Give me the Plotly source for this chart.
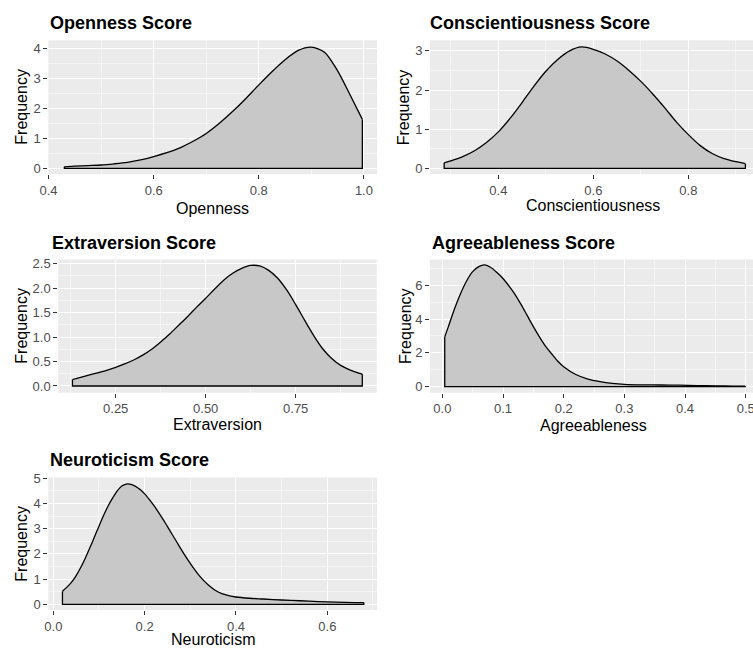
import plotly.graph_objects as go

W, H = 753, 651

# ---------------- data ----------------
openness_x = [0.43, 0.45, 0.475, 0.5, 0.525, 0.55, 0.575, 0.6, 0.625, 0.65, 0.675, 0.7,
              0.725, 0.75, 0.775, 0.8, 0.825, 0.85, 0.875, 0.9, 0.925, 0.95, 0.975, 0.997]
openness_y = [0.05, 0.07, 0.09, 0.11, 0.15, 0.20, 0.28, 0.39, 0.52, 0.68, 0.90, 1.16,
              1.50, 1.89, 2.32, 2.78, 3.22, 3.62, 3.93, 4.04, 3.87, 3.25, 2.40, 1.63]

consc_x = [0.286, 0.3, 0.325, 0.35, 0.375, 0.4, 0.425, 0.45, 0.475, 0.5, 0.525, 0.55, 0.575,
           0.6, 0.625, 0.65, 0.675, 0.7, 0.725, 0.75, 0.775, 0.8, 0.825, 0.85, 0.875, 0.9, 0.92]
consc_y = [0.14, 0.19, 0.30, 0.45, 0.66, 0.93, 1.28, 1.68, 2.10, 2.48, 2.78, 3.00, 3.10,
           3.04, 2.92, 2.74, 2.50, 2.22, 1.90, 1.55, 1.18, 0.86, 0.58, 0.38, 0.25, 0.17, 0.12]

extra_x = [0.13, 0.15, 0.175, 0.2, 0.225, 0.25, 0.275, 0.3, 0.325, 0.35, 0.375, 0.4, 0.425,
           0.45, 0.475, 0.5, 0.525, 0.55, 0.575, 0.6, 0.625, 0.65, 0.675, 0.7, 0.725, 0.75,
           0.775, 0.8, 0.825, 0.85, 0.875, 0.9, 0.935]
extra_y = [0.13, 0.17, 0.22, 0.27, 0.32, 0.38, 0.45, 0.53, 0.63, 0.75, 0.90, 1.06, 1.24,
           1.42, 1.61, 1.79, 1.98, 2.16, 2.30, 2.40, 2.46, 2.45, 2.36, 2.20, 1.96, 1.66,
           1.34, 1.03, 0.76, 0.56, 0.42, 0.33, 0.24]

agree_x = [0.004, 0.01, 0.02, 0.03, 0.04, 0.05, 0.06, 0.07, 0.08, 0.09, 0.1, 0.11, 0.12,
           0.13, 0.14, 0.15, 0.16, 0.17, 0.18, 0.19, 0.2, 0.22, 0.24, 0.26, 0.28, 0.3, 0.33,
           0.36, 0.39, 0.42, 0.45, 0.48, 0.499]
agree_y = [2.95, 3.55, 4.6, 5.5, 6.25, 6.8, 7.1, 7.2, 7.05, 6.75, 6.40, 5.95, 5.45,
           4.85, 4.20, 3.55, 2.95, 2.40, 1.95, 1.52, 1.18, 0.72, 0.45, 0.30, 0.20, 0.14, 0.11,
           0.10, 0.09, 0.07, 0.05, 0.04, 0.04]

neuro_x = [0.02, 0.03, 0.04, 0.05, 0.06, 0.07, 0.08, 0.09, 0.1, 0.11, 0.12, 0.13, 0.14, 0.15,
           0.16, 0.17, 0.18, 0.19, 0.2, 0.21, 0.22, 0.23, 0.24, 0.25, 0.26, 0.27, 0.28, 0.29,
           0.3, 0.32, 0.34, 0.36, 0.38, 0.4, 0.43, 0.46, 0.5, 0.54, 0.58, 0.62, 0.66, 0.68]
neuro_y = [0.52, 0.68, 0.88, 1.14, 1.46, 1.83, 2.24, 2.67, 3.10, 3.52, 3.90, 4.22, 4.50, 4.69,
           4.77, 4.76, 4.68, 4.55, 4.38, 4.16, 3.92, 3.66, 3.38, 3.08, 2.78, 2.48, 2.18, 1.89,
           1.62, 1.13, 0.76, 0.50, 0.36, 0.29, 0.24, 0.21, 0.17, 0.14, 0.11, 0.09, 0.07, 0.07]

titles = ["Openness Score", "Conscientiousness Score", "Extraversion Score",
          "Agreeableness Score", "Neuroticism Score"]
xlabels = ["Openness", "Conscientiousness", "Extraversion", "Agreeableness", "Neuroticism"]
ylabel = "Frequency"

# ---------------- layout (pixel geometry) ----------------
panels = [
    dict(xs=openness_x, ys=openness_y, box=(48.3, 377, 40.3, 174),
         xr=[0.3995, 1.0249], yr=[-0.19, 4.267], xd=0.2, yd=1, xf=".1f", yf="d",
         title_px=(48.3, 23), xl_px=(212.5, 208), yl_px=(20.7, 107)),
    dict(xs=consc_x, ys=consc_y, box=(430, 753, 40.3, 174),
         xr=[0.2562, 0.936], yr=[-0.145, 3.27], xd=0.2, yd=1, xf=".1f", yf="d",
         title_px=(428.3, 23), xl_px=(593, 205), yl_px=(403.3, 107)),
    dict(xs=extra_x, ys=extra_y, box=(58.3, 376.7, 259.5, 392.7),
         xr=[0.0906, 0.975], yr=[-0.137, 2.582], xd=0.25, yd=0.5, xf=".2f", yf=".1f",
         title_px=(50, 243), xl_px=(217.5, 424), yl_px=(20.7, 326)),
    dict(xs=agree_x, ys=agree_y, box=(430, 753, 259.5, 392.7),
         xr=[-0.0203, 0.512], yr=[-0.354, 7.52], xd=0.1, yd=2, xf=".1f", yf="d",
         title_px=(430, 243), xl_px=(593, 425), yl_px=(405, 326)),
    dict(xs=neuro_x, ys=neuro_y, box=(48.3, 377, 477.5, 610),
         xr=[-0.011, 0.7088], yr=[-0.226, 5.03], xd=0.2, yd=1, xf=".1f", yf="d",
         title_px=(48.3, 460), xl_px=(212.5, 639), yl_px=(20.7, 544)),
]

FONT = "Liberation Sans, Arial, sans-serif"
FILL = "#C8C8C8"

fig = go.Figure()
annotations = []

for i, p in enumerate(panels, start=1):
    sfx = "" if i == 1 else str(i)
    xs, ys = p["xs"], p["ys"]
    # density area
    fig.add_trace(go.Scatter(
        x=xs, y=ys, mode="lines", fill="tozeroy", fillcolor=FILL,
        line=dict(color="black", width=1.3, shape="spline", smoothing=0.8),
        xaxis="x" + sfx, yaxis="y" + sfx, showlegend=False, hoverinfo="skip"))
    # vertical edges and baseline of the density outline
    fig.add_trace(go.Scatter(
        x=[xs[0], xs[0], xs[-1], xs[-1]], y=[ys[0], 0, 0, ys[-1]], mode="lines",
        line=dict(color="black", width=1.3),
        xaxis="x" + sfx, yaxis="y" + sfx, showlegend=False, hoverinfo="skip"))

    x0, x1, y0, y1 = p["box"]
    common = dict(showline=False, zeroline=False, ticks="outside", ticklen=4,
                  tickwidth=1.1, tickcolor="#333333", showgrid=True,
                  gridcolor="white", gridwidth=1.1, automargin=False,
                  tickfont=dict(family=FONT, size=13, color="#4D4D4D"),
                  ticklabeloverflow="allow")
    fig.update_layout(**{
        "xaxis" + sfx: dict(common, domain=[x0 / W, min(x1 / W, 1)], range=p["xr"],
                            anchor="y" + sfx, dtick=p["xd"], tick0=0, tickformat=p["xf"],
                            minor=dict(dtick=p["xd"] / 2, tick0=0, showgrid=True,
                                       gridcolor="#F5F5F5", gridwidth=0.6, ticks="")),
        "yaxis" + sfx: dict(common, domain=[1 - y1 / H, 1 - y0 / H], range=p["yr"],
                            anchor="x" + sfx, dtick=p["yd"], tick0=0, tickformat=p["yf"],
                            minor=dict(dtick=p["yd"] / 2, tick0=0, showgrid=True,
                                       gridcolor="#F5F5F5", gridwidth=0.6, ticks="")),
    })

    tx, ty = p["title_px"]
    annotations.append(dict(text=titles[i - 1], x=tx / W, y=1 - ty / H, xref="paper",
                            yref="paper", xanchor="left", yanchor="middle", showarrow=False,
                            font=dict(family=FONT, size=18, color="black", weight="bold")))
    lx, ly = p["xl_px"]
    annotations.append(dict(text=xlabels[i - 1], x=lx / W, y=1 - ly / H, xref="paper",
                            yref="paper", xanchor="center", yanchor="middle", showarrow=False,
                            font=dict(family=FONT, size=16, color="black")))
    vx, vy = p["yl_px"]
    annotations.append(dict(text=ylabel, x=vx / W, y=1 - vy / H, xref="paper",
                            yref="paper", xanchor="center", yanchor="middle", showarrow=False,
                            textangle=-90, font=dict(family=FONT, size=16, color="black")))

fig.update_layout(
    width=W, height=H, autosize=False,
    margin=dict(l=0, r=0, t=0, b=0, pad=0, autoexpand=False),
    paper_bgcolor="white", plot_bgcolor="#EBEBEB",
    annotations=annotations, showlegend=False,
    font=dict(family=FONT),
)

fig.write_html("out.html", post_script="document.body.style.margin='0px';",
               config={"displayModeBar": False})
